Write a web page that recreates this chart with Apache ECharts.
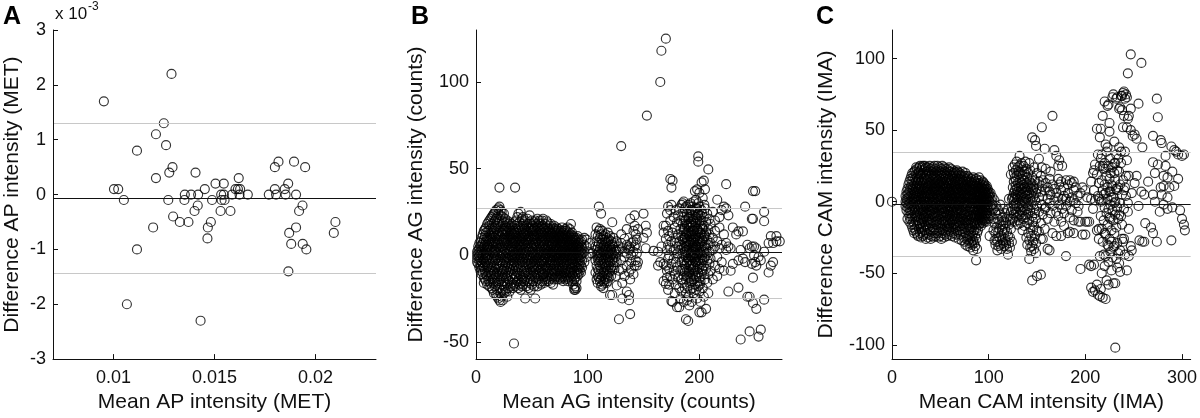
<!DOCTYPE html>
<html><head><meta charset="utf-8">
<script src="https://cdn.jsdelivr.net/npm/echarts@6/dist/echarts.min.js"></script>
<style>html,body{margin:0;padding:0;background:#fff}#c{width:1200px;height:418px}</style>
</head><body><div id="c"></div>
<script>
// Panel A: rows of [difference (x10^-3), mean values...]
const apRows = [
  [2.2, 0.01287], [1.7, 0.00952], [1.3, 0.01249], [1.1, 0.0121], [0.9, 0.0126], [0.8, 0.01116],
  [0.6, 0.01817, 0.01894], [0.5, 0.01799, 0.01949, 0.01292], [0.4, 0.01276, 0.01406],
  [0.3, 0.0121, 0.0162], [0.2, 0.01505, 0.01546, 0.01865],
  [0.1, 0.01002, 0.01023, 0.01452, 0.01604, 0.01616, 0.01627, 0.01799, 0.01848],
  [0, 0.01353, 0.01384, 0.01419, 0.01533, 0.01546, 0.01587, 0.01624, 0.01665, 0.01769, 0.01805, 0.01852, 0.01904],
  [-0.1, 0.01051, 0.01271, 0.01351, 0.01488, 0.01535, 0.0155],
  [-0.2, 0.01417, 0.01936], [-0.3, 0.01401, 0.0153, 0.01579, 0.01919], [-0.4, 0.01295],
  [-0.5, 0.01328, 0.01371, 0.01482, 0.02099], [-0.6, 0.01196, 0.01467, 0.01904],
  [-0.7, 0.0187, 0.02091], [-0.8, 0.01465], [-0.9, 0.0188, 0.01937], [-1.0, 0.01116, 0.01955],
  [-1.4, 0.01866], [-2.0, 0.01066], [-2.3, 0.01431]
];
const apLines = [-0.065, 1.305, -1.437];
const apXTicks = [0.01, 0.015, 0.02];
const apYTicks = [-3, -2, -1, 0, 1, 2, 3];

// Panel B: rows of [mean, differences...]
const agRows = [
  [1,0,-2,2,-4],[2,3,-1,-5,5,1],[3,-3,4,0,-7,7,-1],[4,2,-6,8,-3,5,-9],[5,10,-4,1,-8,6,-11,3],
  [6,-2,7,-6,12,0,-10,4],[7,5,-13,9,-3,1,-7,14,-16],[8,-1,11,3,-9,6,-14,15,-5],[9,8,-4,13,-11,2,-15,16,0],
  [10,-7,4,18,-2,10,-12,6,-17,1],[11,14,-6,3,-10,9,-1,19,-14,5],[12,0,12,-8,6,-15,17,-3,8,-18,20],
  [13,-5,9,2,-12,15,-9,4,21,-16,11],[14,7,-2,13,-7,18,-11,3,-19,10,22],[15,1,-14,16,5,-4,11,-20,8,23,-9],
  [16,-6,12,2,-16,19,-1,7,-10,14,-22,24],[17,4,-8,20,10,-13,0,16,-3,-18,8,25],[18,-11,6,-2,15,21,-17,3,11,-7,-23,26],
  [19,9,-5,13,-14,1,22,-20,17,5,-10,-24],[20,2,-12,18,7,-3,24,-8,12,-16,-25,27],
  [21,39,-6,14,4,-19,28,0,-11,9,19,-26,-15],[22,11,-1,23,-14,6,-22,16,-8,3,-27,26,-4],
  [23,-9,20,5,-17,13,-2,25,-24,8,-12,1],[24,15,-5,0,-20,22,9,-13,18,-26,4,-9,12],
  [25,-3,7,-15,19,2,-22,14,-8,24,-18,10],[26,6,-11,17,-1,-20,12,3,-6,21,-16,9],
  [27,-4,14,-13,1,19,-21,8,-9,16,-2],[28,10,-7,4,-17,13,-1,20,-12,7,-24],[29,-2,16,-10,6,-19,11,1,-14,18,-5],
  [30,3,-8,15,-15,9,-3,19,-21,12,0],[31,-6,11,-12,5,17,-18,2,8,-9,14],[32,7,-1,13,-16,0,18,-11,4,-5,10],
  [33,-3,9,-14,16,2,-8,12,-19,6,-1],[34,-51,12,-6,3,-17,19,8,-11,0,14,-4],[35,39,5,-13,10,-2,17,-9,1,-18,13,7],
  [36,-7,15,2,-12,8,-4,20,-16,11,0],[37,4,-10,13,-1,18,-15,6,-6,22,9],[38,-3,11,-14,7,1,24,-8,16,-19,3],
  [39,8,-5,14,-11,19,0,-17,10,5,-2],[40,25,-12,3,17,-7,9,-1,-16,12,6,-20],[41,-4,15,1,-9,21,-14,8,4,-18,11],
  [42,10,-6,18,-13,2,13,-2,6,-17,22],[43,-1,7,-11,16,3,-8,19,-15,12,0],[44,5,-14,12,-4,20,-25,9,1,-10,15],
  [45,-7,17,2,-12,8,-2,14,-18,11,4],[46,13,-5,21,0,-15,9,-9,6,18,-1],[47,-3,10,-11,16,4,-19,12,-6,2,7],
  [48,8,-13,19,-1,14,-8,23,3,-16,11],[49,-5,15,0,-10,6,-14,18,10,-2,-20],[50,2,-7,13,-17,9,20,-4,5,-12,16],
  [51,-9,11,-1,17,4,-15,7,-6,14,1],[52,6,-3,19,-11,12,0,-18,9,-7,15],[53,-25,3,-13,10,16,-5,1,-9,20,7],
  [54,12,-8,5,-15,18,-1,14,-11,8,-3],[55,-6,16,0,-12,9,-18,21,4,-2,11],[56,3,-10,13,-4,17,-14,7,1,-7,19],
  [57,-1,10,-16,6,15,-9,2,12,-5,20],[58,8,-12,18,-3,4,-17,11,0,-8,14],[59,-4,13,-10,7,20,-15,2,9,-6,16],
  [60,5,-8,12,-13,17,0,-3,10,21,-11],[61,-2,15,3,-11,8,-16,13,6,-5,1],[62,9,-6,18,-14,1,11,-9,4,16,-1],
  [63,-7,12,0,-12,7,20,-4,14,-15,3],[64,4,-10,16,-3,10,-13,6,1,19,-8],[65,-1,13,-15,8,2,-6,15,-11,11,5],
  [66,7,-4,11,-9,17,-14,3,0,14,-2],[67,-6,9,1,-12,13,5,-16,10,-3,18],[68,2,-9,15,-5,8,-13,12,0,-1,6],
  [69,-17,11,-3,4,16,-8,7,-11,1,13],[70,5,-6,10,-14,14,-1,2,-9,17,8],[71,-3,12,-10,6,0,-13,9,15,-5,3],
  [72,8,-8,13,-2,-12,4,11,-6,1,16],[73,-1,6,-14,10,2,-9,14,-4,7,-11],[74,4,-5,12,-12,9,0,-7,15,3,-2],
  [75,-8,11,1,-13,7,13,-3,5,-10,10],[76,2,-11,8,-4,14,-1,6,-14,11,0],[77,-6,10,-9,3,12,-13,5,16,-2,8],
  [78,7,-3,13,-12,1,9,-7,4,-15,11],[79,-2,5,-10,14,0,-5,10,-13,7,2],[80,9,-8,3,-14,12,-1,6,-11,15,1],
  [81,-4,11,-6,2,-12,8,14,-9,4,-1],[82,6,-13,10,0,-3,16,-8,5,-15,12],[83,-1,8,-10,3,13,-6,1,-14,9,6],
  [84,4,-5,11,-12,7,-2,15,-9,2,0],[85,18,-7,3,-13,9,-3,12,-10,6,1],[86,-2,10,-8,5,-15,8,0,-5,13,-11],
  [87,6,-4,9,-12,2,-17,11,-7,4,-1],[88,-19,3,-9,7,-14,0,10,-5,-20,5],[89,1,-11,8,-6,-18,4,-2,9,-13,-20],
  [90,-4,6,-9,2,-15,10,-1,-7,4,-19],[91,3,-8,7,-12,0,-4,11,-10,5],[92,-2,5,-6,9,-11,1,-8,3],
  [93,0,-5,7,-3,4,-9,2],[94,3,-6,8,-1,-10,5],[95,-3,9,1,-7,4],[97,2,-4,6,10],[99,-1,5,9],[102,1,7],[104,1],
  [107,12,-3,5,-10],[108,0,8,-14,3,-6,16],[109,-8,5,-2,11,-12,1,-16],[110,28,14,-4,7,-9,2,-13,-1],
  [111,4,-11,10,-6,0,-15,-3,15],[112,24,-2,6,-8,12,-14,1,-18],[113,9,-5,3,-12,-1,7,-17,14],
  [114,-7,2,-10,5,-3,-15,11,-19],[115,6,-13,0,9,-5,-9,3,-16],[116,1,-7,12,-2,-11,4,-14,8],
  [117,-4,7,-9,0,-16,5,-6,10],[118,3,-12,-1,8,-8,2,-15,13],[119,-6,5,-3,-10,1,9,-13],
  [120,2,-9,6,-4,-23,11,-1],[121,-7,3,-12,0,8,4],[122,19,-3,6,-9,1,-23],[123,5,-6,0,10,-2],
  [124,-4,2,7,-8],[125,3,-1,-12],
  [126,-17.5,8,-4,2],[128,5,-9,-37,3],[130,63,-3,7,12],[131,-25,4,-8,-16],[133,9.5,-1,-12,2],
  [135,-6,-21,1,6,15],[137,-23,-26,3,-10,5],[138,21,4,-34,-14],[139,0,7,-4,-8],[141,8,14,-11,2],
  [142,23,-6,5,17],[143,6,12,-3],[144,-6,1,9],[145,15,-4],[150,24,10],[152,17,4],[153,80.6,13],[159,2.5],
  [163,-6,2],[165,100,-4],[166,118,5],[168,-15,13,-5,17],[170,125,9.5,-16.6,17,-6],[171,-13,24,3,-9],
  [172,28,-20,6,14,-2],[173,-17,11,-8,0],[174,44,20,-12,26,4],[175,29,-26.5,39,-5,8],[176,43,-27,13,-14],
  [177,3,-9,22,-2],[178,-22,16,7,-11],[179,26,-4,10,-17],[180,-30,1,19,-7],[181,12,-13,5,23],
  [182,-30,-1,8,27,-19],[183,15,-9,3,-25,20],[184,29,-4,11,-14,6,-21],[185,30,1,18,-8,25,-16,9],
  [186,-12,22,4,-3,14,-27,31],[187,10,-6,27,-19,2,16,-10,7],[188,-37,20,-1,12,-14,5,-22,28],
  [189,3,-9,24,-4,17,9,-18,-26],[190,-38,14,-13,6,-2,21,-24,29,1],[191,11,-6,18,-16,-29,3,25,-10,8],
  [192,-3,22,7,-20,13,0,-12,30,16],[193,19,-8,4,26,-15,10,-1,-27,14],[194,-5,12,23,-19,2,17,-11,28,6],
  [195,9,-14,20,0,-7,31,-22,14,4],[196,37,-2,16,-17,7,25,-9,1,12],[197,5,-20,11,-4,22,32,-13,18,-1],
  [198,-8,27,3,-25,15,8,-16,21,38],[199,57,54,14,-3,6,-18,24,-10,1,30],[200,-33,19,-7,10,28,-21,4,36,-13],
  [201,8,-2,23,-15,13,-27,1,17],[202,42,-11,5,20,-5,12,-33,26],[203,33,-3,15,-19,8,-9,3],
  [204,43,10,-24,22,-6,17,2],[205,38,-14,6,27,-1,11],[206,-31,13,-8,19,4],[207,24,-3,9,-16,1],
  [186.5,5,15,-8,20,0,10],[188.5,-5,8,18,-12,3,13],[190.5,12,-3,22,6,-9,16],[192.5,-6,9,1,19,-14,26],
  [194.5,14,-1,8,-8,21,3],[196.5,-4,19,10,-12,4,27],[198.5,9,-6,15,0,23,-10],[200.5,2,13,-3,20,7,-17],
  [202.5,16,-8,9,0,24],[204.5,-2,12,5,-11,29],
  [208,49.5,15,-11,6,-22],[209,21,2,-5,12],[210,-9,18,7,-2],[212,25,3,-14,10],[214,14,-6,20,5],
  [216,32,-1,8,-12],[218,22,4,-8,16],[220,6,26,-4],[222,12,28,-9],[224,41,27,7,3],[226,-21,5,23],
  [228,4,-9],[230,-5,16],[233,12],[235,13.7,-18.7,-3],[237,-48.7,3],[239,13.7,-2],[241,28,-4],
  [243,-24,6],[245,-24,-44,4],[247,21,5,-5],[248,37,-27.6,-13,21],[249,0,5],[250,37,-4],[251,-31,4,-6],
  [253,-47,-1],[255,-43,-3],[258,25,19.6,2,-25.7],[262,7,-10],[264,11,-6],[266,7,-4],[269,11,8],[272,8]
];
const agLines = [1.5, 27.2, -24.7];
const agXTicks = [0, 100, 200];
const agYTicks = [-50, 0, 50, 100];

// Panel C: rows of [mean, differences...]
const camRows = [
  [0,0],
  [14,0,-3,4],[15,-6,2,7,-1],[16,-12,5,-4,9,1],[17,3,-8,12,-2,6],[18,-10,8,-5,14,0,-14],[19,4,-12,10,-1,16,-7],
  [20,-3,18,6,-16,1,-9,12],[21,9,-6,2,-18,15,-11,20],[22,-14,5,-2,11,-20,17,0,8],[23,13,-8,21,3,-16,-4,7,-22],
  [24,-1,16,-11,6,22,-19,10,-6,2],[25,-21,4,14,-9,19,0,-14,9,24],[26,7,-3,-17,12,1,23,-10,17,-23],
  [27,-7,20,3,-13,9,-24,15,-2,5],[28,11,-19,24,-5,2,16,-11,7,-15,21],[29,-2,6,-22,13,-8,19,0,-16,10,25],
  [30,18,-12,3,-25,9,-4,22,14,-19,1],[31,-9,15,6,-15,24,-1,11,-21,4,-6],[32,2,-18,20,-7,13,-12,25,8,-3,-24],
  [33,14,-5,0,17,-23,9,-14,22,5,-10],[34,-16,23,-2,10,-8,4,-20,16,1,25],[35,7,-11,19,-26,12,-3,3,-17,24,-7],
  [36,-4,15,-13,6,21,-22,0,10,-9,18],[37,11,-1,24,-18,4,-8,16,-14,8,-25],[38,-6,20,2,-12,13,-23,7,-3,22,-16],
  [39,17,-10,5,25,-19,0,11,-6,3,-14],[40,-2,9,-21,14,-7,23,-15,6,18,-26],[41,4,-13,19,0,-9,12,-24,21,-4,8],
  [42,-18,7,-1,16,-11,24,3,-20,10,-6],[43,13,-3,22,-15,5,-25,9,-8,18,1],[44,-10,20,2,-19,11,-5,15,-22,7,25],
  [45,6,-14,17,-2,-24,10,0,23,-8,13],[46,-20,3,12,-11,21,-4,8,-16,16,-1],[47,9,-7,25,-13,2,18,-22,5,-10,14],
  [48,-3,15,-18,7,-25,11,0,22,-9,4],[49,19,-12,1,-6,13,-21,24,8,-15,-2],[50,-8,5,16,-17,10,-3,21,-24,3,12],
  [51,1,-19,14,-10,23,6,-5,18,-13,-26],[52,11,-4,20,-15,3,-22,8,25,-8,15],[53,-14,7,-1,17,-20,12,2,-10,22,-5],
  [54,5,-25,13,-7,19,-2,9,-16,0,24],[55,-11,16,3,-18,10,-5,21,-13,6,-23],[56,18,-8,0,14,-21,7,-3,23,-14,11],
  [57,-4,10,-17,2,20,-10,15,-24,4,-1],[58,13,-13,6,-6,22,-19,9,1,-9,17],[59,-20,3,16,-11,-2,12,-16,24,7,-7],
  [60,8,-15,19,-4,4,-23,13,-9,0,21],[61,-1,11,-12,23,-18,6,-6,15,-21,2],[62,15,-5,2,-14,18,-10,9,-24,5,12],
  [63,-9,20,-19,7,-2,13,-13,0,22,-7],[64,4,-16,10,-8,16,-22,1,19,-4,8],[65,-12,6,21,-3,11,-18,14,-10,3,-25],
  [66,17,-7,0,-15,8,-20,20,5,-1,12],[67,-5,13,-11,3,-23,18,-8,9,-16,22],[68,9,-2,15,-18,6,-12,1,21,-6,-21],
  [69,-14,19,4,-9,12,-26,7,-3,16,0],[70,2,-20,11,-5,20,-13,14,-1,-17,6],[71,-8,8,-15,16,0,-23,10,3,-11,18],
  [72,13,-4,5,-19,9,-10,19,-27,1,-6],[73,-2,15,-12,2,-21,7,-16,12,-7,21],[74,6,-17,10,-25,17,-3,0,-12,14,-9],
  [75,-13,3,18,-8,-28,11,-19,5,-1,8],[76,9,-22,1,15,-5,-14,20,-30,4,-10],[77,-3,12,-18,6,-26,16,-9,0,-13,10],
  [78,14,-7,-24,3,-15,9,-31,18,-2,-11],[79,-20,5,-10,13,-1,-27,8,-16,2,17],[80,7,-13,0,-23,11,-6,-29,15,-18,3],
  [81,-4,10,-19,4,-32,14,-10,-1,-25,8],[82,12,-8,-15,1,-28,6,-21,16,-3,-12],[83,-1,5,-24,9,-11,-30,13,-6,2,-18],
  [84,8,-14,-4,17,-22,3,-9,-34,11,-27],[85,-7,2,-16,12,-29,6,-1,-20,15,-11],[86,4,-10,9,-24,0,-5,14,-15,-31,7],
  [87,-41,-3,11,-12,5,-19,1,-8,16,-26],[88,10,-6,-15,3,-22,13,-1,7,-10,-33],[89,-2,8,-13,1,15,-7,-20,5,-4,11],
  [90,12,-9,3,-16,7,-2,-12,17,0,-6],[91,-5,6,-11,13,-1,9,-15,2,-8,4],[92,1,-13,10,-4,15,-9,5,-2,8,-17],
  [93,-7,3,12,-11,0,7,-5,-14,10,2],[94,6,-2,-9,14,3,-12,9,-6,0,-15],[95,-3,11,-7,1,-13,5,8,-10,13,-1],
  [96,4,-11,7,-4,12,-8,0,2,-14,9],[97,-6,1,10,-12,5,-2,-9,6],[98,3,-8,8,-14,0,11,-4],[99,-2,6,-10,2,-6,9],
  [100,1,-12,4,-4,7],[101,-8,3,-24,0,5],[102,-3,6,-10],[103,1,-5],[104,-2,3],
  [105,-12,-20,-5],[106,-27,-15,1],[107,-22,-8,-30],[108,-18,-26,-3],[109,-28,-12,-34],[110,-6,-21,-31],
  [111,-19,-14,-25],[112,-9,-30,-2],[113,-24,-16,-33],[114,-11,-27,-20],[115,-29,-5,-17],[116,-22,-31,-13],
  [117,-8,-26,-19],[118,-30,-15,-28],[119,-21,-33,-11],[120,-37,-24,-6],[121,-16,-29,2],[122,-25,-12,-32],
  [123,-19,19,-7],[124,-28,2,-14],
  [125,24,3,-6,10,-12],[126,14,-2,6,20,-9,1],[127,-5,8,17,-14,3,26],[128,11,-1,22,-7,5,15],[129,2,-11,18,9,-3,28],
  [130,-8,13,4,24,-16,7],[131,19,-4,10,1,-13,21],[132,32,6,-9,15,-1,25],[133,-6,11,3,20,-15,8],
  [134,16,-2,27,5,-10,13],[135,1,22,-7,9,-20,18],[136,12,-4,6,25,-12,3],[137,-17,15,0,10,-6,21],
  [138,7,-1,19,-11,28,4],[139,-9,13,2,-25,23,8],[140,17,-5,10,-15,5,-30],[141,1,20,-8,12,-22,-3],
  [142,27,-40,-13,6,15,-27],[143,-6,10,-18,2,22,-32],[144,13,-35,-2,5,-24,9],[145,45,-55,-31,17,-10,0],
  [146,-20,8,-28,3,12,-14],[147,24,-5,-33,10,-17],[148,43,-24,1,15,-8],[149,39,-29,-12,6,-36],
  [150,-52,20,-3,9,-20],[152,-21,14,-7,3,30],[154,-51,7,-15,18,-26],[155,52,-2,11,24],[156,-26,4,-9,15],
  [158,-19,37,8,-5],[159,-4,13,23],[161,-33,2,-12,10],[163,-34,16,-1,7],[164,21,-8,5],[166,60,-22,12,-3],
  [168,36,1,-14,9],[170,32,-24,6,-7],[172,16,-10,3,25],[173,29,-2,12],[175,-24,8,14,-14],[176,25,-5,2],
  [178,-17,10,-8,4],[180,15,-3,-38,2],[182,-22,6,12],[184,0,15,-11,-21],[186,13,-6,3],[188,8,-13,1,14,-22],
  [190,-1,10],[192,-7,4],[193,-3,-14],
  [195,6,-14,-47],[197,-23,10],[200,-23,8,-14],[202,-14,3],[204,-14,-44],[206,-45,-60,2,14],[208,20,-63,-5],
  [209,8,-44,22],[210,-62,1,26],[212,19,-58,-20,51],[213,-65,4,33],[214,-19,-26,2,13],[215,-66,-38,25,45],
  [216,51,-61,-10,0,30],[217,33,-19,1,-50,15],[218,25,-67,-28,8,60],[219,-37,23,-13,5],[220,70,-45,-22,27,-4,12],
  [221,6,-68,-38,-23,23,40],[222,-55,18,-8,35],[223,38,-30,2,67,-16,10],[224,68,-58,-31,-5,25,-42],
  [225,49,-11,7,-26,16,55],[226,7,-12,-35,30,-2,20],[227,-20,3,-48,12,-28],[228,11,-39,-6,73,24],
  [229,75,-13,-57,3,-32],[230,20,-31,27,-1,42,-22],[231,0,-57,-9,-102,27,15],[232,72,-40,9,-18,33],
  [233,73,-46,8,-4,22,-29],[234,10,-36,30,-12],[235,65,21,38,-9,-43],[236,66,-49,-34,-1,12],[237,35,74,-10,27],
  [238,74,64,-26,5,-16],[239,52,76,-28,15],[240,77,-26,-5,60,8],[241,10,35,-37,72],[242,4,18,75],
  [243,73,-48,29,52],[244,89.7,-7,-1,58],[245,60,-19,18,-38],[247,103,50,65,-31],[248,-34,6],[249,46],
  [251,47,13],[253,44,18],[255,68.5,-3],[256,-27],[258,97,7],[259,38,-28],[261,-28,5],[262,-15],[265,14],
  [268,-18],[270,46,27.6,-22,5],[272,20,0],[274,72,-28],[275,59,26],[277,-7],[278,43,10],[279,41,5],
  [281,18,-2,11],[283,25,32],[285,-5,17,3],[287,10],[289,38.6,-27],[290,21,-4],[292,36,11],[294,35],
  [296,16,33],[298,-6],[300,32,-12],[302,-16,33],[303,-20]
];
const camLines = [-2, 34.8, -38.3];
const camXTicks = [0, 100, 200, 300];
const camYTicks = [-100, -50, 0, 50, 100];

const apData = apRows.flatMap(r => r.slice(1).map(x => [x, r[0]]));
const agData = agRows.flatMap(r => r.slice(1).map(y => [r[0], y]));
const camData = camRows.flatMap(r => r.slice(1).map(y => [r[0], y]));

const FONT = '"Liberation Sans", Arial, Helvetica, sans-serif';
const INK = '#111';

function xAxis(idx, min, max, ticks, name) {
  return {
    type: 'value', gridIndex: idx, min, max, position: 'bottom', z: 10, name, nameLocation: 'middle', nameGap: 31,
    nameTextStyle: { fontFamily: FONT, fontSize: 21, color: INK },
    axisLine: { show: true, onZero: false, lineStyle: { color: INK, width: 1 } },
    axisTick: { show: true, inside: true, length: 5, lineStyle: { color: INK }, customValues: ticks },
    axisLabel: { show: true, margin: 10, fontFamily: FONT, fontSize: 18, color: INK, customValues: ticks },
    splitLine: { show: false }
  };
}
function yAxis(idx, min, max, ticks, name, gap) {
  return {
    type: 'value', gridIndex: idx, min, max, position: 'left', z: 10, name, nameLocation: 'middle', nameGap: gap,
    nameTextStyle: { fontFamily: FONT, fontSize: 21, color: INK },
    axisLine: { show: true, onZero: false, lineStyle: { color: INK, width: 1 } },
    axisTick: { show: true, inside: true, length: 5, lineStyle: { color: INK }, customValues: ticks },
    axisLabel: { show: true, margin: 7, fontFamily: FONT, fontSize: 18, color: INK, customValues: ticks },
    splitLine: { show: false }
  };
}
// mean (black), limits (grey), plus the axis baseline at the y minimum (black)
function refLines(vals, yMin) {
  const items = vals.map((v, i) => ({ yAxis: v, lineStyle: { color: i === 0 ? '#111' : '#c8c8c8', width: 1, type: 'solid' } }));
  items.push({ yAxis: yMin, lineStyle: { color: INK, width: 1, type: 'solid' } });
  return { silent: true, symbol: ['none', 'none'], label: { show: false }, animation: false, data: items };
}
function scatter(idx, data, lines, yMin) {
  return {
    type: 'scatter', xAxisIndex: idx, yAxisIndex: idx, data, symbol: 'circle', symbolSize: 9,
    clip: false, silent: true, large: false, progressive: 0,
    itemStyle: { color: 'rgba(0,0,0,0)', borderColor: '#000', borderWidth: 1.15 },
    markLine: refLines(lines, yMin), z: 3
  };
}

const chart = echarts.init(document.getElementById('c'));
chart.setOption({
  animation: false,
  grid: [
    { left: 53, top: 30, width: 323, height: 332 },
    { left: 476, top: 30, width: 306, height: 332 },
    { left: 892, top: 30, width: 300, height: 332 }
  ],
  xAxis: [
    xAxis(0, 0.007, 0.023, apXTicks, 'Mean AP intensity (MET)'),
    xAxis(1, 0, 274, agXTicks, 'Mean AG intensity (counts)'),
    xAxis(2, 0, 309, camXTicks, 'Mean CAM intensity (IMA)')
  ],
  yAxis: [
    yAxis(0, -3, 3, apYTicks, 'Difference AP intensity (MET)', 30),
    yAxis(1, -60, 130, agYTicks, 'Difference AG intensity (counts)', 49),
    yAxis(2, -110, 120, camYTicks, 'Difference CAM intensity (IMA)', 55)
  ],
  series: [
    scatter(0, apData, apLines, -3),
    scatter(1, agData, agLines, -60),
    scatter(2, camData, camLines, -110)
  ],
  graphic: [
    { type: 'text', left: 3, top: 5, style: { text: 'A', font: 'bold 25px ' + FONT, fill: '#000' } },
    { type: 'text', left: 411, top: 5, style: { text: 'B', font: 'bold 25px ' + FONT, fill: '#000' } },
    { type: 'text', left: 816, top: 5, style: { text: 'C', font: 'bold 25px ' + FONT, fill: '#000' } },
    { type: 'text', left: 55, top: 6, style: { text: 'x 10', font: '17px ' + FONT, fill: INK } },
    { type: 'text', left: 88, top: 1, style: { text: '-3', font: '12px ' + FONT, fill: INK } }
  ]
});
</script>
</body></html>
